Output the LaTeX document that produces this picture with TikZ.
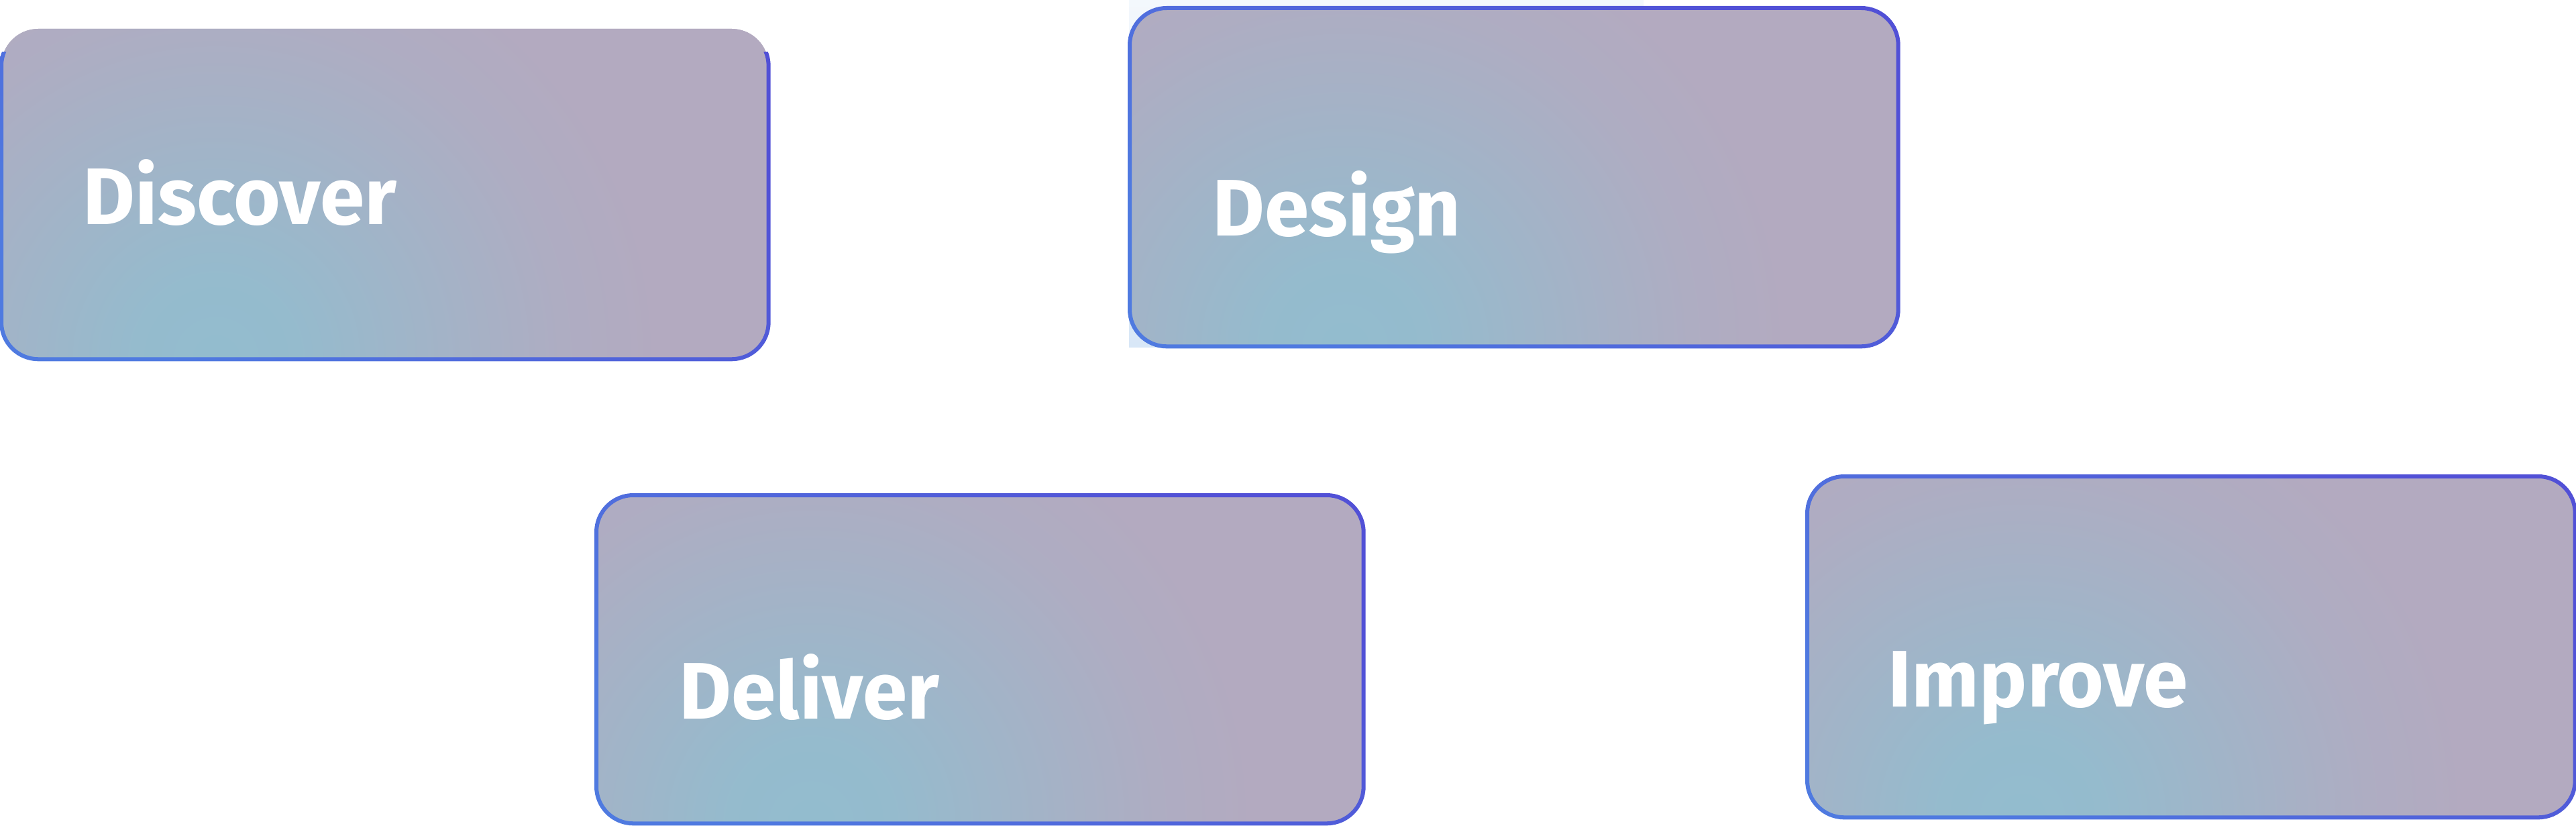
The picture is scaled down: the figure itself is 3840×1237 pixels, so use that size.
\documentclass[tikz,border=0pt]{standalone}
\usepackage{fontspec}
\setmainfont{Fira Sans}
\usetikzlibrary{calc}
\definecolor{cyanc}{HTML}{93BCCE}
\definecolor{mauvec}{HTML}{B3AAC0}
\definecolor{ringtop}{HTML}{5150D6}
\definecolor{ringbot}{HTML}{4F7AE0}
\definecolor{haze}{HTML}{D8E7F7}
\pgfdeclareradialshading{stagefill}{\pgfpoint{0bp}{0bp}}{%
  color(0bp)=(cyanc); color(2.4bp)=(cyanc!95!mauvec);
  color(5.8bp)=(cyanc!62!mauvec); color(8.3bp)=(cyanc!38!mauvec);
  color(10.8bp)=(cyanc!15!mauvec); color(13.8bp)=(mauvec); color(50bp)=(mauvec)}
\tikzset{
  stagebox/.style={anchor=north west, inner sep=0pt, outer sep=0pt,
    rounded corners=0.55cm, draw=none, fill=mauvec,
    path picture={\shade[shading=stagefill]
      ($(path picture bounding box.south west)!0.28!(path picture bounding box.south east)$) circle[radius=12cm];}},
  stagelabel/.style={anchor=base west, inner sep=0pt, text=white,
    font=\fontsize{34}{40}\bfseries\selectfont},
  ringshade/.style={even odd rule, top color=ringtop, bottom color=ringbot, shading angle=-40}
}
\newcommand{\stagering}[1]{%
  \shade[ringshade]
    [rounded corners=0.58cm] ($(#1.north west)+(-3,-3)$) rectangle ($(#1.south east)+(3,3)$)
    [rounded corners=0.52cm] ($(#1.north west)+(3,3)$) rectangle ($(#1.south east)+(-3,-3)$);}
\begin{document}
\begin{tikzpicture}[x=0.01cm, y=-0.01cm]
\useasboundingbox (0,0) rectangle (3840,1237);
% faint backdrop behind Design
\shade[top color=haze!30, bottom color=haze] (1683,0) rectangle (2450,518);
% Discover (its top stroke is not shown)
\node[stagebox, minimum width=11.43cm, minimum height=4.92cm] (discover) at (2,43) {};
\begin{scope}
  \clip (-10,78) rectangle (1200,600);
  \stagering{discover}
\end{scope}
\node[stagelabel] (discoverlabel) at (123,335) {Discover};
% Design
\node[stagebox, minimum width=11.45cm, minimum height=5.04cm] (design) at (1684,12) {};
\stagering{design}
\node[stagelabel] (designlabel) at (1807,352) {Design};
% Deliver
\node[stagebox, minimum width=11.43cm, minimum height=4.89cm] (deliver) at (889,738) {};
\stagering{deliver}
\node[stagelabel] (deliverlabel) at (1012,1071) {Deliver};
% Improve
\node[stagebox, minimum width=11.44cm, minimum height=5.08cm] (improve) at (2694,710) {};
\stagering{improve}
\node[stagelabel] (improvelabel) at (2814,1053) {Improve};
\end{tikzpicture}
\end{document}
